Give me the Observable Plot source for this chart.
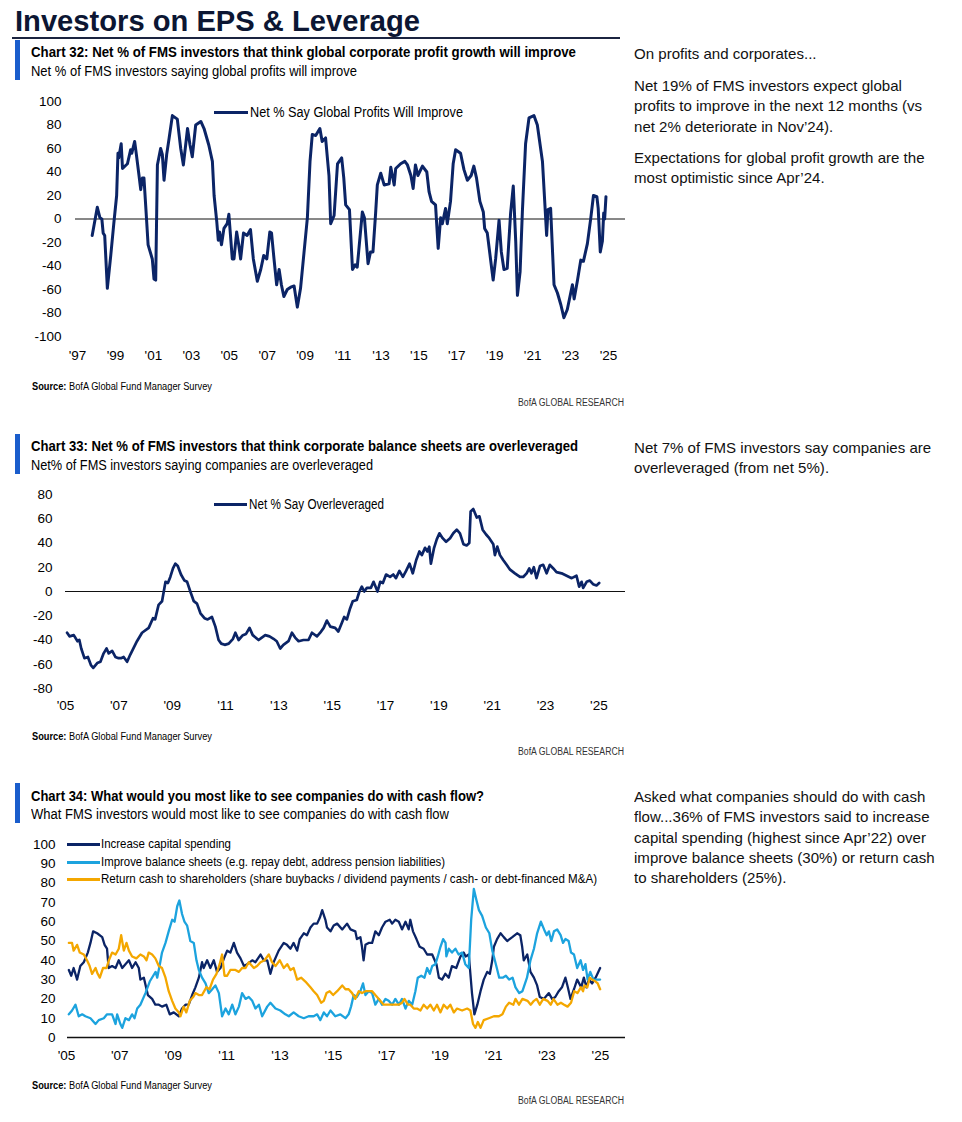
<!DOCTYPE html>
<html><head><meta charset="utf-8">
<script src="https://cdn.jsdelivr.net/npm/d3@7"></script>
<script src="https://cdn.jsdelivr.net/npm/@observablehq/plot@0.6"></script>
<style>
html,body{margin:0;padding:0;background:#fff;}
body{position:relative;width:962px;height:1122px;overflow:hidden;}
.t{position:absolute;white-space:nowrap;transform-origin:0 50%;}
.box{position:absolute;}
</style></head>
<body>
<script>
// ---------------- DATA ----------------
const profitSeriesName = "Net % Say Global Profits Will Improve";
const profitSeries = [
[1997.77,-14],[1998.04,10],[1998.18,1],[1998.28,0],[1998.35,-12],[1998.43,-14],[1998.57,-59],[1998.75,-31],
[1998.91,-4],[1999.06,20],[1999.13,56],[1999.17,52],[1999.30,64],[1999.37,43],[1999.63,47],[1999.80,59],
[1999.86,56],[2000.01,66],[2000.10,55],[2000.24,37],[2000.33,25],[2000.42,35],[2000.50,35],[2000.59,12],
[2000.72,-22],[2000.94,-34],[2001.03,-51],[2001.12,-52],[2001.21,46],[2001.38,60],[2001.47,55],[2001.56,33],
[2001.70,55],[2001.83,69],[2002.00,88],[2002.26,85],[2002.44,60],[2002.58,46],[2002.80,77],[2002.93,63],
[2003.05,53],[2003.23,80],[2003.50,83],[2003.67,77],[2003.92,63],[2004.11,49],[2004.20,20],[2004.34,-2],
[2004.42,-18],[2004.49,-11],[2004.59,-22],[2004.72,-8],[2004.89,-4],[2004.98,4],[2005.16,-34],[2005.25,-34],
[2005.39,-11],[2005.50,-22],[2005.60,-34],[2005.75,-12],[2005.94,-14],[2006.12,-9],[2006.27,-34],[2006.48,-53],
[2006.66,-43],[2006.82,-31],[2006.98,-34],[2007.14,-11],[2007.23,-12],[2007.36,-34],[2007.50,-56],[2007.63,-43],
[2007.75,-56],[2007.88,-66],[2008.06,-60],[2008.24,-58],[2008.42,-57],[2008.59,-75],[2008.76,-59],[2008.94,-29],
[2009.12,1],[2009.26,49],[2009.38,72],[2009.56,71],[2009.78,77],[2009.90,66],[2010.08,69],[2010.26,37],
[2010.35,-4],[2010.53,3],[2010.71,47],[2010.93,52],[2011.04,35],[2011.14,12],[2011.34,8],[2011.50,-43],
[2011.64,-39],[2011.75,-41],[2012.02,6],[2012.13,1],[2012.32,-38],[2012.45,-28],[2012.58,-28],[2012.72,5],
[2012.81,29],[2012.99,39],[2013.17,29],[2013.43,30],[2013.52,44],[2013.70,29],[2013.78,43],[2014.04,47],
[2014.26,49],[2014.40,46],[2014.58,37],[2014.70,26],[2014.82,46],[2014.95,37],[2015.19,45],[2015.42,40],
[2015.54,23],[2015.67,15],[2015.88,12],[2016.02,-25],[2016.15,1],[2016.24,-4],[2016.41,9],[2016.50,-4],
[2016.67,15],[2016.81,47],[2016.94,59],[2017.20,56],[2017.38,42],[2017.56,33],[2017.76,37],[2017.90,45],
[2018.04,35],[2018.22,15],[2018.40,6],[2018.47,-8],[2018.61,-12],[2018.78,-34],[2018.92,-52],[2019.05,-34],
[2019.23,-1],[2019.35,-28],[2019.49,-43],[2019.66,-42],[2019.84,5],[2019.98,28],[2020.11,-19],[2020.20,-65],
[2020.34,-45],[2020.46,6],[2020.63,64],[2020.81,86],[2021.07,88],[2021.25,80],[2021.52,49],[2021.74,-14],
[2021.81,8],[2021.95,9],[2022.13,-56],[2022.31,-63],[2022.49,-73],[2022.65,-84],[2022.83,-77],[2023.10,-56],
[2023.19,-68],[2023.37,-52],[2023.54,-35],[2023.68,-36],[2023.89,-21],[2024.07,1],[2024.21,20],[2024.39,19],
[2024.46,9],[2024.57,-28],[2024.68,-19],[2024.75,5],[2024.80,0],[2024.87,19]
];
const profitXTicks = [1997,1999,2001,2003,2005,2007,2009,2011,2013,2015,2017,2019,2021,2023,2025];
const profitXLabels = ["'97","'99","'01","'03","'05","'07","'09","'11","'13","'15","'17","'19","'21","'23","'25"];
const profitYTicks = [100,80,60,40,20,0,-20,-40,-60,-80,-100];

const leverageSeriesName = "Net % Say Overleveraged";
const leverageSeries = [
[2005.06,-34],[2005.15,-37],[2005.31,-36],[2005.45,-41],[2005.52,-40],[2005.59,-47],[2005.71,-55],[2005.84,-54],
[2005.96,-61],[2006.04,-63],[2006.19,-59],[2006.31,-58],[2006.43,-51],[2006.54,-47],[2006.62,-51],[2006.75,-49],
[2006.87,-54],[2006.99,-55],[2007.08,-55],[2007.18,-54],[2007.31,-58],[2007.43,-52],[2007.68,-41],[2007.87,-34],
[2008.12,-30],[2008.28,-22],[2008.36,-23],[2008.49,-11],[2008.62,-8],[2008.75,8],[2008.84,7],[2008.93,12],
[2009.03,19],[2009.12,23],[2009.21,21],[2009.33,14],[2009.46,9],[2009.56,8],[2009.68,0],[2009.81,-8],
[2009.93,-10],[2010.06,-18],[2010.21,-22],[2010.33,-23],[2010.49,-21],[2010.62,-29],[2010.74,-40],[2010.84,-43],
[2010.97,-44],[2011.12,-43],[2011.28,-39],[2011.37,-34],[2011.49,-40],[2011.65,-36],[2011.77,-35],[2011.90,-30],
[2012.02,-36],[2012.24,-40],[2012.36,-38],[2012.49,-36],[2012.65,-37],[2012.80,-39],[2012.92,-41],[2013.05,-47],
[2013.17,-44],[2013.36,-41],[2013.49,-34],[2013.61,-38],[2013.74,-41],[2013.92,-40],[2014.11,-40],[2014.24,-34],
[2014.43,-37],[2014.55,-34],[2014.68,-30],[2014.80,-24],[2014.93,-29],[2015.11,-30],[2015.23,-33],[2015.36,-26],
[2015.45,-21],[2015.55,-23],[2015.67,-14],[2015.77,-8],[2015.92,-7],[2016.02,0],[2016.11,4],[2016.20,0],
[2016.30,3],[2016.45,3],[2016.55,8],[2016.70,0],[2016.80,8],[2016.90,7],[2017.02,14],[2017.17,12],
[2017.29,14],[2017.39,11],[2017.52,17],[2017.65,12],[2017.77,17],[2017.90,23],[2018.02,15],[2018.15,26],
[2018.27,33],[2018.36,30],[2018.48,36],[2018.57,33],[2018.64,37],[2018.70,23],[2018.82,36],[2018.92,43],
[2019.02,48],[2019.14,44],[2019.27,41],[2019.42,44],[2019.54,48],[2019.67,51],[2019.79,48],[2019.92,39],
[2020.04,38],[2020.14,40],[2020.19,66],[2020.29,68],[2020.42,61],[2020.52,62],[2020.64,51],[2020.77,47],
[2020.89,44],[2021.04,39],[2021.10,30],[2021.19,37],[2021.29,30],[2021.41,26],[2021.54,22],[2021.67,18],
[2021.85,15],[2022.04,12],[2022.16,12],[2022.29,15],[2022.39,19],[2022.47,15],[2022.56,20],[2022.66,11],
[2022.79,21],[2022.91,22],[2023.04,15],[2023.16,22],[2023.29,19],[2023.41,16],[2023.60,15],[2023.79,13],
[2023.98,11],[2024.16,13],[2024.26,4],[2024.35,8],[2024.41,3],[2024.54,8],[2024.66,9],[2024.78,6],
[2024.91,5],[2025.01,7]
];
const yearXTicks = [2005,2007,2009,2011,2013,2015,2017,2019,2021,2023,2025];
const yearXLabels = ["'05","'07","'09","'11","'13","'15","'17","'19","'21","'23","'25"];
const leverageYTicks = [80,60,40,20,0,-20,-40,-60,-80];

const cashSeriesNames = [
  "Increase capital spending",
  "Improve balance sheets (e.g. repay debt, address pension liabilities)",
  "Return cash to shareholders (share buybacks / dividend payments / cash- or debt-financed M&A)"
];
const capexSeries = [
[2005.09,35],[2005.18,32],[2005.27,36],[2005.40,30],[2005.52,37],[2005.65,39],[2005.80,44],[2005.90,49],
[2006.00,55],[2006.15,54],[2006.34,52],[2006.43,48],[2006.52,46],[2006.58,36],[2006.71,37],[2006.84,36],
[2006.96,40],[2007.09,36],[2007.21,38],[2007.34,40],[2007.46,36],[2007.59,39],[2007.71,36],[2007.77,30],
[2007.90,31],[2008.05,22],[2008.21,20],[2008.33,17],[2008.46,17],[2008.58,16],[2008.74,17],[2008.87,12],
[2009.02,13],[2009.21,11],[2009.33,15],[2009.46,17],[2009.58,17],[2009.71,22],[2009.83,26],[2009.96,31],
[2010.08,39],[2010.14,36],[2010.27,40],[2010.39,36],[2010.52,40],[2010.64,34],[2010.77,36],[2010.90,41],
[2011.02,45],[2011.14,44],[2011.27,49],[2011.39,44],[2011.52,41],[2011.65,37],[2011.77,38],[2011.96,40],
[2012.08,39],[2012.27,43],[2012.39,40],[2012.52,40],[2012.64,33],[2012.76,39],[2012.95,45],[2013.14,49],
[2013.26,48],[2013.39,46],[2013.51,49],[2013.64,45],[2013.74,51],[2013.89,54],[2014.01,53],[2014.14,57],
[2014.26,59],[2014.39,59],[2014.49,62],[2014.58,66],[2014.70,61],[2014.76,57],[2014.89,55],[2015.01,58],
[2015.14,59],[2015.33,56],[2015.51,59],[2015.64,56],[2015.82,55],[2015.88,51],[2016.01,52],[2016.07,47],
[2016.13,40],[2016.20,48],[2016.32,49],[2016.45,49],[2016.57,55],[2016.70,53],[2016.82,57],[2016.95,60],
[2017.11,61],[2017.20,59],[2017.32,61],[2017.45,60],[2017.57,56],[2017.70,60],[2017.82,56],[2017.88,61],
[2017.98,55],[2018.11,51],[2018.23,47],[2018.38,46],[2018.51,43],[2018.70,43],[2018.86,38],[2018.95,31],
[2019.07,30],[2019.19,33],[2019.32,31],[2019.44,37],[2019.60,36],[2019.76,42],[2019.88,44],[2019.95,42],
[2020.07,43],[2020.19,23],[2020.28,12],[2020.39,17],[2020.51,24],[2020.63,30],[2020.76,34],[2020.86,33],
[2020.95,40],[2021.01,47],[2021.13,51],[2021.26,54],[2021.38,52],[2021.51,50],[2021.70,52],[2021.88,54],
[2022.00,53],[2022.07,47],[2022.13,40],[2022.26,43],[2022.38,34],[2022.51,31],[2022.63,27],[2022.73,21],
[2022.88,20],[2023.07,23],[2023.19,20],[2023.31,21],[2023.44,24],[2023.56,26],[2023.69,31],[2023.78,26],
[2023.88,20],[2024.01,25],[2024.13,30],[2024.28,26],[2024.38,31],[2024.48,26],[2024.57,30],[2024.69,28],
[2024.82,31],[2024.99,36]
];
const balanceSeries = [
[2005.09,12],[2005.21,14],[2005.34,17],[2005.46,11],[2005.59,12],[2005.71,11],[2005.90,10],[2006.09,7],
[2006.21,9],[2006.40,10],[2006.52,12],[2006.71,12],[2006.84,7],[2006.90,12],[2007.02,7],[2007.09,5],
[2007.21,10],[2007.34,9],[2007.46,12],[2007.55,10],[2007.65,15],[2007.77,17],[2007.96,23],[2008.12,29],
[2008.25,32],[2008.34,34],[2008.40,31],[2008.50,38],[2008.58,44],[2008.71,49],[2008.83,55],[2008.96,61],
[2009.05,60],[2009.15,68],[2009.23,71],[2009.33,64],[2009.42,60],[2009.52,58],[2009.64,50],[2009.77,49],
[2009.87,40],[2009.96,35],[2010.08,31],[2010.21,28],[2010.33,23],[2010.46,25],[2010.58,27],[2010.71,23],
[2010.77,17],[2010.83,11],[2010.96,15],[2011.08,12],[2011.21,17],[2011.33,12],[2011.46,16],[2011.58,23],
[2011.71,20],[2011.83,21],[2011.96,19],[2012.08,15],[2012.21,17],[2012.33,11],[2012.52,16],[2012.64,18],
[2012.83,15],[2013.01,14],[2013.20,12],[2013.33,11],[2013.51,13],[2013.70,11],[2013.89,10],[2014.07,11],
[2014.26,11],[2014.39,12],[2014.51,9],[2014.64,13],[2014.76,11],[2014.89,14],[2015.07,11],[2015.26,12],
[2015.45,10],[2015.57,12],[2015.66,16],[2015.76,22],[2015.88,21],[2016.01,24],[2016.11,28],[2016.20,22],
[2016.32,24],[2016.45,23],[2016.57,17],[2016.70,20],[2016.82,17],[2016.95,20],[2017.07,19],[2017.20,17],
[2017.32,20],[2017.45,17],[2017.57,20],[2017.70,15],[2017.82,19],[2017.95,17],[2018.07,24],[2018.16,31],
[2018.29,32],[2018.41,31],[2018.51,36],[2018.61,33],[2018.70,37],[2018.82,38],[2018.91,42],[2019.01,47],
[2019.11,51],[2019.20,49],[2019.23,42],[2019.32,46],[2019.44,44],[2019.57,46],[2019.69,43],[2019.82,44],
[2019.94,38],[2020.07,36],[2020.16,61],[2020.26,77],[2020.36,71],[2020.45,66],[2020.57,63],[2020.71,57],
[2020.84,54],[2020.95,45],[2021.01,42],[2021.12,36],[2021.21,31],[2021.34,31],[2021.46,32],[2021.58,30],
[2021.71,31],[2021.82,26],[2021.96,23],[2022.08,24],[2022.25,31],[2022.38,40],[2022.51,46],[2022.63,54],
[2022.77,60],[2022.89,56],[2022.99,53],[2023.07,55],[2023.16,50],[2023.26,55],[2023.38,56],[2023.51,53],
[2023.60,49],[2023.69,51],[2023.81,50],[2023.90,44],[2024.01,43],[2024.13,36],[2024.26,40],[2024.35,35],
[2024.44,38],[2024.52,30],[2024.62,34],[2024.74,30],[2024.87,30],[2024.99,30]
];
const returnSeries = [
[2005.09,49],[2005.21,49],[2005.27,45],[2005.40,48],[2005.50,44],[2005.65,43],[2005.77,40],[2005.87,37],
[2005.96,33],[2006.09,36],[2006.17,33],[2006.25,31],[2006.37,36],[2006.50,36],[2006.59,40],[2006.71,44],
[2006.84,43],[2006.96,46],[2007.05,53],[2007.15,45],[2007.25,49],[2007.34,45],[2007.46,42],[2007.62,41],
[2007.77,43],[2007.90,42],[2008.00,40],[2008.08,44],[2008.21,43],[2008.33,41],[2008.46,37],[2008.58,36],
[2008.71,31],[2008.83,24],[2008.96,19],[2009.08,15],[2009.21,13],[2009.27,11],[2009.39,16],[2009.49,13],
[2009.62,19],[2009.75,21],[2009.83,23],[2009.96,22],[2010.08,22],[2010.24,26],[2010.36,25],[2010.49,30],
[2010.62,33],[2010.74,38],[2010.83,43],[2010.92,32],[2011.02,32],[2011.14,35],[2011.33,35],[2011.46,34],
[2011.58,36],[2011.71,36],[2011.83,39],[2012.02,36],[2012.14,37],[2012.27,39],[2012.42,40],[2012.58,43],
[2012.70,39],[2012.83,37],[2012.99,40],[2013.14,36],[2013.27,38],[2013.39,35],[2013.51,36],[2013.64,30],
[2013.79,31],[2013.95,29],[2014.14,26],[2014.26,24],[2014.39,22],[2014.54,18],[2014.64,19],[2014.74,23],
[2014.86,24],[2014.99,22],[2015.14,24],[2015.33,27],[2015.45,25],[2015.57,25],[2015.70,23],[2015.82,20],
[2015.95,24],[2016.07,23],[2016.20,24],[2016.32,24],[2016.45,24],[2016.57,22],[2016.70,20],[2016.88,17],
[2017.01,17],[2017.13,17],[2017.32,17],[2017.45,17],[2017.57,18],[2017.66,20],[2017.79,17],[2017.88,17],
[2018.01,15],[2018.13,15],[2018.26,14],[2018.38,17],[2018.51,15],[2018.63,17],[2018.76,14],[2018.88,17],
[2019.01,13],[2019.13,17],[2019.26,15],[2019.38,17],[2019.51,13],[2019.63,15],[2019.82,14],[2020.01,15],
[2020.13,14],[2020.23,7],[2020.32,5],[2020.41,8],[2020.51,5],[2020.63,9],[2020.82,10],[2021.01,11],
[2021.20,11],[2021.33,12],[2021.46,16],[2021.58,18],[2021.74,17],[2021.82,20],[2021.95,17],[2022.08,20],
[2022.27,19],[2022.39,17],[2022.51,19],[2022.61,20],[2022.73,17],[2022.86,20],[2023.02,19],[2023.14,17],
[2023.24,20],[2023.39,17],[2023.52,18],[2023.64,17],[2023.77,16],[2023.90,18],[2024.02,24],[2024.14,23],
[2024.27,26],[2024.35,24],[2024.40,27],[2024.51,26],[2024.60,31],[2024.69,30],[2024.82,29],[2024.90,28],
[2024.99,25]
];
const cashYTicks = [0,10,20,30,40,50,60,70,80,90,100];

// ---------------- STYLE ----------------
const NAVY = "#0b2466", LBLUE = "#1ca3de", ORANGE = "#f4a700", BAR = "#1a5dcc";
const NARROW = "'Liberation Sans Narrow','Liberation Sans',Arial,sans-serif";
const SANS = "'Liberation Sans',Arial,sans-serif";

function text(str, o) {
  const d = document.createElement("div");
  d.className = "t";
  if (Array.isArray(str)) {
    for (const [s, b] of str) { const sp = document.createElement("span"); sp.textContent = s; if (b) sp.style.fontWeight = "700"; d.appendChild(sp); }
  } else d.textContent = str;
  const size = o.size;
  Object.assign(d.style, {
    left: o.left + "px", top: (o.cy - size * 0.6) + "px", fontSize: size + "px",
    lineHeight: (size * 1.2) + "px", fontWeight: o.bold ? "700" : "400",
    fontFamily: o.family || NARROW, color: o.color || "#000"
  });
  document.body.appendChild(d);
  if (o.width) {
    const w = d.getBoundingClientRect().width;
    d.style.transform = `scaleX(${o.width / w})`;
  } else if (o.scale) {
    d.style.transform = `scaleX(${o.scale})`;
  }
  return d;
}
function rect(left, top, w, h, color) {
  const d = document.createElement("div");
  d.className = "box";
  Object.assign(d.style, {left: left + "px", top: top + "px", width: w + "px", height: h + "px", background: color});
  document.body.appendChild(d);
}
function place(svg, left, top) {
  const d = document.createElement("div");
  d.className = "box";
  d.style.left = left + "px"; d.style.top = top + "px";
  d.appendChild(svg);
  document.body.appendChild(d);
}
function labeler(ticks, labels) { const m = new Map(ticks.map((t, i) => [t, labels[i]])); return d => m.get(d); }

function chart(o) {
  const marks = [Plot.ruleY([0], {stroke: "#111", strokeWidth: o.baseWidth || 1})];
  for (const s of o.series) {
    marks.push(Plot.line(s.data, {x: d => d[0], y: d => d[1], stroke: s.color, strokeWidth: s.width, strokeLinejoin: "round", strokeLinecap: "round"}));
  }
  return Plot.plot({
    width: o.width, height: o.height,
    marginLeft: o.marginLeft, marginRight: o.marginRight, marginTop: o.marginTop, marginBottom: o.marginBottom,
    style: {fontFamily: SANS, fontSize: o.fontSize + "px", color: "#000", background: "transparent", overflow: "visible"},
    x: {type: "linear", domain: o.xDomain, ticks: o.xTicks, tickFormat: labeler(o.xTicks, o.xLabels), tickSize: 0, tickPadding: o.xPad, label: null},
    y: {domain: o.yDomain, ticks: o.yTicks, tickFormat: d => String(d), tickSize: 0, tickPadding: o.yPad, label: null},
    marks
  });
}

// ---------------- HEADER ----------------
text("Investors on EPS & Leverage", {left: 15, cy: 21, size: 29, bold: true, color: "#0c1633", width: 405});
rect(12, 36.5, 608, 2, "#1b2440");

// ---------------- CHART 32 ----------------
rect(15, 40, 5, 40, BAR);
text("Chart 32: Net % of FMS investors that think global corporate profit growth will improve", {left: 31, cy: 53, size: 14.5, bold: true, width: 545});
text("Net % of FMS investors saying global profits will improve", {left: 31, cy: 71, size: 14, width: 326});
place(chart({
  width: 630, height: 280, marginLeft: 75, marginRight: 5, marginTop: 11, marginBottom: 34, fontSize: 13.5,
  xDomain: [1996.89, 2025.9], xTicks: profitXTicks, xLabels: profitXLabels, xPad: 14,
  yDomain: [-100, 100], yTicks: profitYTicks, yPad: 14,
  series: [{data: profitSeries, color: NAVY, width: 3}]
}), 0, 90);
rect(214, 110.5, 34, 3, NAVY);
text(profitSeriesName, {left: 250, cy: 112, size: 14, width: 213});
text([["Source:", true], [" BofA Global Fund Manager Survey", false]], {left: 32, cy: 387, size: 10, width: 180});
text("BofA GLOBAL RESEARCH", {left: 518, cy: 403, size: 10, color: "#333", width: 106});

// ---------------- CHART 33 ----------------
rect(15, 434, 5, 40, BAR);
text("Chart 33: Net % of FMS investors that think corporate balance sheets are overleveraged", {left: 31, cy: 447, size: 14.5, bold: true, width: 547});
text("Net% of FMS investors saying companies are overleveraged", {left: 31, cy: 465, size: 14, width: 342});
place(chart({
  width: 630, height: 250, marginLeft: 65, marginRight: 5, marginTop: 14, marginBottom: 42, fontSize: 13.5,
  xDomain: [2005, 2025.997], xTicks: yearXTicks, xLabels: yearXLabels, xPad: 12,
  yDomain: [-80, 80], yTicks: leverageYTicks, yPad: 13,
  series: [{data: leverageSeries, color: NAVY, width: 2.7}]
}), 0, 480);
rect(214, 502.5, 33, 3, NAVY);
text(leverageSeriesName, {left: 249, cy: 504, size: 14, width: 135});
text([["Source:", true], [" BofA Global Fund Manager Survey", false]], {left: 32, cy: 737, size: 10, width: 180});
text("BofA GLOBAL RESEARCH", {left: 518, cy: 752, size: 10, color: "#333", width: 106});

// ---------------- CHART 34 ----------------
rect(15, 783, 5, 40, BAR);
text("Chart 34: What would you most like to see companies do with cash flow?", {left: 31, cy: 797, size: 14.5, bold: true, width: 453});
text("What FMS investors would most like to see companies do with cash flow", {left: 31, cy: 814, size: 14, width: 418});
place(chart({
  width: 630, height: 240, marginLeft: 67, marginRight: 5, marginTop: 14, marginBottom: 33, fontSize: 13.5,
  xDomain: [2005.04, 2025.94], xTicks: yearXTicks, xLabels: yearXLabels, xPad: 13,
  yDomain: [0, 100], yTicks: cashYTicks, yPad: 12, baseWidth: 1.5,
  series: [
    {data: capexSeries, color: NAVY, width: 2.3},
    {data: balanceSeries, color: LBLUE, width: 2.3},
    {data: returnSeries, color: ORANGE, width: 2.3}
  ]
}), 0, 830);
const legCol = [NAVY, LBLUE, ORANGE], legY = [844, 862, 879], legW = [130, 344, 496];
cashSeriesNames.forEach((n, i) => {
  rect(67, legY[i] - 1.5, 33, 3, legCol[i]);
  text(n, {left: 101, cy: legY[i], size: 13, width: legW[i]});
});
text([["Source:", true], [" BofA Global Fund Manager Survey", false]], {left: 32, cy: 1086, size: 10, width: 180});
text("BofA GLOBAL RESEARCH", {left: 518, cy: 1101, size: 10, color: "#333", width: 106});

// ---------------- RIGHT COLUMN ----------------
const probe = text("profits to improve in the next 12 months (vs", {left: -2000, cy: -100, size: 15, family: SANS});
const rScale = 288 / probe.getBoundingClientRect().width;
probe.remove();
const rightLines = [
  ["On profits and corporates...", 54],
  ["Net 19% of FMS investors expect global", 86],
  ["profits to improve in the next 12 months (vs", 106],
  ["net 2% deteriorate in Nov’24).", 127],
  ["Expectations for global profit growth are the", 158],
  ["most optimistic since Apr’24.", 178],
  ["Net 7% of FMS investors say companies are", 448],
  ["overleveraged (from net 5%).", 468],
  ["Asked what companies should do with cash", 797],
  ["flow...36% of FMS investors said to increase", 817],
  ["capital spending (highest since Apr’22) over", 838],
  ["improve balance sheets (30%) or return cash", 858],
  ["to shareholders (25%).", 878]
];
for (const [s, y] of rightLines) text(s, {left: 634, cy: y, size: 15, family: SANS, color: "#111", scale: rScale});
</script>
</body></html>
